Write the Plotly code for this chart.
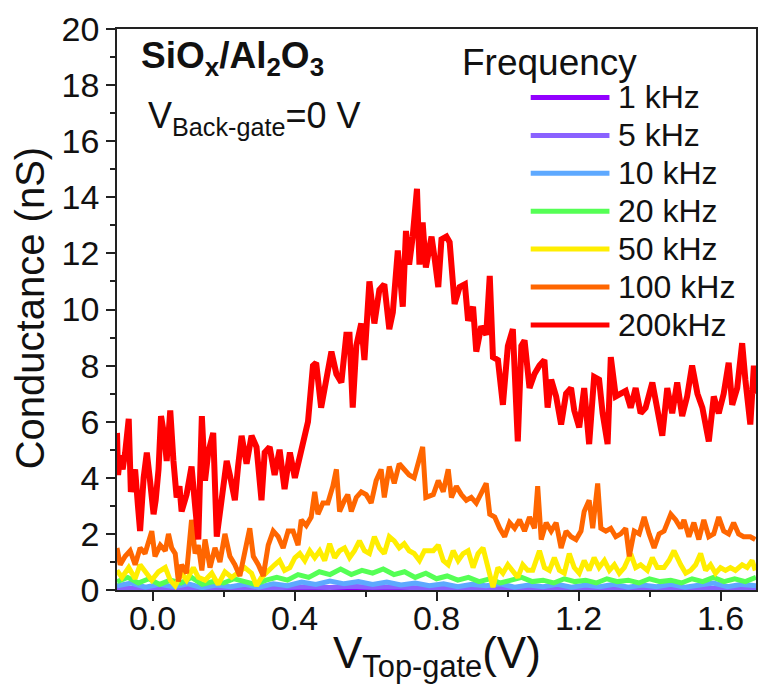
import plotly.graph_objects as go

# ---------------- data: conductance (nS) vs top-gate voltage (V) ----------------
labels = ["1 kHz", "5 kHz", "10 kHz", "20 kHz", "50 kHz", "100 kHz", "200kHz"]
colors = ["#9300ff", "#8a62ff", "#5ea9ff", "#55ff55", "#ffee00", "#ff6600", "#ff0000"]

v_1k = [-0.10, 0.00, 0.10, 0.20, 0.30, 0.40, 0.50, 0.60, 0.70, 0.80, 0.90, 1.00,
        1.10, 1.20, 1.30, 1.40, 1.50, 1.60, 1.70]
g_1k = [0.03, 0.02, 0.03, 0.02, 0.04, 0.03, 0.05, 0.04, 0.05, 0.03, 0.04, 0.02,
        0.03, 0.02, 0.03, 0.02, 0.03, 0.02, 0.03]

v_5k = [-0.10, -0.04, 0.02, 0.08, 0.14, 0.20, 0.26, 0.32, 0.38, 0.44, 0.50, 0.56,
        0.62, 0.68, 0.74, 0.80, 0.86, 0.92, 0.98, 1.04, 1.10, 1.16, 1.22, 1.28,
        1.34, 1.40, 1.46, 1.52, 1.58, 1.64, 1.70]
g_5k = [0.08, 0.05, 0.10, 0.06, 0.09, 0.05, 0.08, 0.06, 0.10, 0.12, 0.09, 0.13,
        0.10, 0.12, 0.08, 0.10, 0.06, 0.09, 0.05, 0.08, 0.06, 0.09, 0.05, 0.08,
        0.06, 0.09, 0.05, 0.08, 0.06, 0.09, 0.06]

v_10k = [-0.10, -0.06, -0.02, 0.02, 0.06, 0.10, 0.14, 0.18, 0.22, 0.26, 0.30, 0.34,
         0.38, 0.42, 0.46, 0.50, 0.54, 0.58, 0.62, 0.66, 0.70, 0.74, 0.78, 0.82,
         0.86, 0.90, 0.94, 0.98, 1.02, 1.06, 1.10, 1.14, 1.18, 1.22, 1.26, 1.30,
         1.34, 1.38, 1.42, 1.46, 1.50, 1.54, 1.58, 1.62, 1.66, 1.70]
g_10k = [0.15, 0.25, 0.10, 0.20, 0.12, 0.22, 0.08, 0.18, 0.12, 0.20, 0.10, 0.22,
         0.15, 0.28, 0.20, 0.32, 0.22, 0.30, 0.20, 0.28, 0.18, 0.25, 0.15, 0.22,
         0.12, 0.20, 0.15, 0.22, 0.10, 0.18, 0.12, 0.20, 0.10, 0.18, 0.12, 0.20,
         0.10, 0.18, 0.12, 0.20, 0.10, 0.18, 0.25, 0.12, 0.20, 0.15]

v_20k = [-0.10, -0.07, -0.04, -0.01, 0.02, 0.05, 0.08, 0.11, 0.14, 0.17, 0.20, 0.23,
         0.26, 0.29, 0.32, 0.35, 0.38, 0.41, 0.44, 0.47, 0.50, 0.53, 0.56, 0.59,
         0.62, 0.65, 0.68, 0.71, 0.74, 0.77, 0.80, 0.83, 0.86, 0.89, 0.92, 0.95,
         0.98, 1.01, 1.04, 1.07, 1.10, 1.13, 1.16, 1.19, 1.22, 1.25, 1.28, 1.31,
         1.34, 1.37, 1.40, 1.43, 1.46, 1.49, 1.52, 1.55, 1.58, 1.61, 1.64, 1.67, 1.70]
g_20k = [0.30, 0.45, 0.25, 0.40, 0.20, 0.35, 0.25, 0.45, 0.20, 0.30, 0.25, 0.40,
         0.30, 0.20, 0.35, 0.45, 0.35, 0.55, 0.45, 0.65, 0.55, 0.75, 0.55, 0.70,
         0.60, 0.75, 0.55, 0.65, 0.45, 0.60, 0.40, 0.50, 0.35, 0.45, 0.30, 0.40,
         0.25, 0.35, 0.45, 0.30, 0.35, 0.25, 0.40, 0.30, 0.35, 0.25, 0.40, 0.30,
         0.35, 0.25, 0.40, 0.30, 0.35, 0.25, 0.40, 0.30, 0.45, 0.30, 0.40, 0.30, 0.45]

v_50k = [-0.100, -0.086, -0.067, -0.049, -0.035, -0.016, -0.002, 0.017, 0.036, 0.050,
         0.064, 0.082, 0.096, 0.115, 0.129, 0.148, 0.167, 0.185, 0.204, 0.223, 0.241,
         0.260, 0.279, 0.293, 0.307, 0.326, 0.344, 0.358, 0.372, 0.387, 0.401, 0.415,
         0.429, 0.443, 0.457, 0.471, 0.485, 0.499, 0.513, 0.527, 0.541, 0.555, 0.569,
         0.583, 0.597, 0.611, 0.625, 0.639, 0.653, 0.667, 0.681, 0.695, 0.709, 0.723,
         0.737, 0.752, 0.766, 0.791, 0.805, 0.819, 0.833, 0.847, 0.861, 0.875, 0.889,
         0.903, 0.917, 0.931, 0.945, 0.959, 0.973, 0.987, 1.001, 1.015, 1.029, 1.043,
         1.057, 1.071, 1.090, 1.104, 1.118, 1.132, 1.146, 1.160, 1.174, 1.188, 1.202,
         1.216, 1.230, 1.244, 1.258, 1.273, 1.287, 1.301, 1.315, 1.329, 1.347, 1.361,
         1.375, 1.394, 1.408, 1.422, 1.441, 1.455, 1.469, 1.488, 1.502, 1.516, 1.530,
         1.544, 1.558, 1.572, 1.586, 1.600, 1.614, 1.628, 1.642, 1.661, 1.675, 1.689,
         1.698]
g_50k = [0.70, 0.45, 0.80, 0.40, 0.90, 0.60, 0.35, 0.65, 0.80, 0.35,
         0.15, 0.60, 0.35, 0.80, 0.45, 0.35, 0.60, 0.20, 0.65, 0.45, 0.60,
         0.80, 0.60, 0.15, 0.45, 0.70, 0.90, 1.05, 0.70, 0.80, 1.15, 1.30,
         1.05, 1.40, 1.15, 1.40, 1.05, 1.65, 1.15, 1.40, 1.50, 1.15, 1.40,
         1.75, 1.40, 1.30, 1.90, 1.50, 1.30, 1.90, 1.75, 1.50, 1.65, 1.40,
         1.30, 1.05, 1.40, 1.40, 1.60, 1.05, 0.90, 1.40, 1.05, 1.30, 1.40,
         0.80, 1.30, 1.50, 0.80, 0.10, 0.80, 0.60, 0.90, 0.70, 0.45, 0.90,
         0.70, 0.70, 1.40, 0.80, 0.70, 1.15, 0.70, 0.60, 1.30, 0.80, 0.60,
         1.05, 0.70, 1.15, 0.80, 1.05, 0.70, 0.90, 0.60, 0.80, 1.30, 0.80,
         0.90, 0.70, 1.15, 0.80, 0.80, 1.05, 1.40, 0.90, 0.60, 0.70, 0.90,
         1.30, 0.70, 0.90, 0.60, 0.80, 0.70, 0.80, 0.70, 0.90, 0.80, 1.05,
         0.70]

v_100k = [-0.100, -0.091, -0.077, -0.063, -0.049, -0.035, -0.021, -0.002, 0.007, 0.022,
          0.036, 0.045, 0.054, 0.064, 0.073, 0.082, 0.096, 0.110, 0.120, 0.129, 0.139,
          0.148, 0.162, 0.176, 0.190, 0.204, 0.218, 0.232, 0.246, 0.260, 0.274, 0.284,
          0.298, 0.312, 0.326, 0.340, 0.354, 0.368, 0.382, 0.396, 0.410, 0.419, 0.433,
          0.447, 0.457, 0.466, 0.480, 0.494, 0.508, 0.518, 0.527, 0.541, 0.550, 0.560,
          0.574, 0.588, 0.602, 0.616, 0.630, 0.644, 0.653, 0.667, 0.681, 0.695, 0.709,
          0.723, 0.737, 0.752, 0.761, 0.770, 0.791, 0.805, 0.819, 0.833, 0.842, 0.856,
          0.870, 0.884, 0.898, 0.912, 0.926, 0.940, 0.950, 0.964, 0.978, 0.992, 1.006,
          1.020, 1.034, 1.048, 1.062, 1.076, 1.085, 1.095, 1.109, 1.123, 1.137, 1.151,
          1.165, 1.179, 1.193, 1.207, 1.216, 1.230, 1.240, 1.254, 1.263, 1.277, 1.291,
          1.305, 1.319, 1.333, 1.343, 1.357, 1.371, 1.385, 1.399, 1.413, 1.427, 1.441,
          1.460, 1.474, 1.488, 1.497, 1.511, 1.525, 1.539, 1.553, 1.567, 1.581, 1.595,
          1.609, 1.623, 1.637, 1.651, 1.665, 1.684, 1.698]
g_100k = [1.5, 0.9, 1.2, 1.4, 0.9, 1.5, 1.3, 2.1, 1.2, 1.6,
          1.4, 2.0, 1.5, 1.3, 0.3, 0.9, 0.6, 2.5, 1.3, 1.6, 0.7,
          1.8, 0.8, 1.5, 1.0, 2.0, 1.2, 0.9, 0.5, 1.4, 2.2, 1.2,
          0.9, 0.5, 1.6, 2.1, 1.9, 1.5, 2.1, 2.1, 1.6, 2.5, 2.3,
          2.6, 3.5, 2.7, 3.1, 3.1, 3.7, 4.3, 2.8, 3.2, 3.4, 2.8,
          3.3, 3.5, 3.4, 3.1, 3.9, 4.3, 3.3, 4.4, 3.8, 4.5, 4.3,
          4.1, 4.0, 4.7, 5.1, 3.3, 3.4, 3.9, 3.5, 4.3, 3.3, 3.7,
          3.4, 3.2, 3.3, 3.1, 3.5, 3.8, 2.7, 2.6, 2.2, 1.9, 2.4,
          2.2, 2.5, 2.1, 2.6, 2.2, 3.7, 1.8, 2.4, 2.1, 2.4, 1.5,
          2.1, 1.9, 1.8, 2.1, 2.8, 3.2, 2.2, 3.8, 2.2, 2.1, 2.2,
          1.9, 2.0, 2.2, 1.2, 2.1, 2.0, 2.6, 2.0, 1.5, 2.0, 2.1,
          2.7, 2.5, 2.2, 2.5, 1.9, 2.4, 1.8, 2.5, 1.9, 2.0, 2.6,
          2.1, 2.0, 2.4, 2.0, 1.9, 1.9, 1.8]

v_200k = [-0.100, -0.097, -0.091, -0.084, -0.077, -0.067, -0.061, -0.049, -0.041, -0.035,
          -0.025, -0.016, -0.007, 0.003, 0.009, 0.017, 0.024, 0.033, 0.040, 0.050,
          0.059, 0.068, 0.076, 0.082, 0.096, 0.110, 0.120, 0.129, 0.139, 0.148,
          0.157, 0.171, 0.181, 0.195, 0.209, 0.218, 0.232, 0.241, 0.251, 0.265,
          0.279, 0.293, 0.307, 0.316, 0.330, 0.344, 0.358, 0.372, 0.387, 0.401,
          0.410, 0.424, 0.438, 0.452, 0.461, 0.475, 0.489, 0.504, 0.518, 0.532,
          0.546, 0.555, 0.564, 0.574, 0.588, 0.597, 0.611, 0.625, 0.639, 0.653,
          0.667, 0.677, 0.691, 0.705, 0.714, 0.723, 0.733, 0.745, 0.752, 0.761,
          0.770, 0.786, 0.795, 0.805, 0.814, 0.828, 0.837, 0.851, 0.865, 0.880,
          0.889, 0.903, 0.912, 0.926, 0.940, 0.950, 0.959, 0.973, 0.987, 1.001,
          1.015, 1.029, 1.039, 1.048, 1.062, 1.076, 1.090, 1.104, 1.113, 1.123,
          1.137, 1.151, 1.165, 1.179, 1.188, 1.202, 1.216, 1.230, 1.244, 1.258,
          1.268, 1.282, 1.291, 1.305, 1.319, 1.333, 1.347, 1.361, 1.375, 1.389,
          1.408, 1.422, 1.436, 1.450, 1.464, 1.478, 1.492, 1.506, 1.520, 1.535,
          1.549, 1.567, 1.581, 1.595, 1.609, 1.623, 1.633, 1.647, 1.661, 1.670,
          1.684, 1.694, 1.700]
g_200k = [5.6, 4.1, 4.8, 4.3, 4.9, 6.1, 3.5, 4.3, 3.0, 2.1,
          4.0, 4.9, 3.9, 2.7, 3.2, 4.3, 6.2, 5.5, 4.6, 6.4,
          4.6, 3.3, 3.7, 2.8, 3.4, 4.4, 3.0, 1.8, 6.2, 3.9,
          4.9, 5.6, 1.9, 3.2, 4.6, 4.1, 3.2, 4.4, 5.5, 4.5,
          5.5, 5.1, 3.2, 4.9, 5.1, 4.1, 5.0, 3.6, 4.9, 4.0,
          4.5, 5.3, 6.0, 8.0, 8.1, 6.5, 7.5, 8.5, 7.7, 7.4,
          9.1, 9.1, 6.5, 8.7, 9.5, 8.2, 11.0, 9.5, 10.7, 10.9,
          9.3, 9.9, 12.1, 10.1, 12.8, 11.6, 12.6, 14.3, 11.6, 13.1,
          11.5, 12.6, 11.8, 10.8, 12.5, 12.6, 12.4, 10.2, 10.8, 10.9,
          9.6, 10.1, 8.5, 9.4, 9.1, 11.2, 8.3, 8.2, 6.6, 8.7,
          9.3, 5.3, 8.7, 8.9, 7.2, 7.7, 8.0, 8.2, 6.5, 7.5,
          6.9, 5.9, 7.0, 7.2, 6.4, 5.8, 7.2, 5.2, 7.6, 7.5,
          6.3, 5.2, 8.3, 6.9, 7.0, 7.1, 6.5, 7.2, 6.3, 6.5,
          7.4, 6.5, 5.5, 7.2, 6.3, 7.4, 6.2, 6.9, 8.0, 7.0,
          6.5, 5.3, 6.9, 6.3, 7.0, 8.1, 6.6, 7.2, 8.8, 7.5,
          5.9, 8.0, 7.0]

series_v = [v_1k, v_5k, v_10k, v_20k, v_50k, v_100k, v_200k]
series_g = [g_1k, g_5k, g_10k, g_20k, g_50k, g_100k, g_200k]

x_range = [-0.1, 1.7]
y_range = [0, 20]

# ---------------- figure geometry (pixels) ----------------
FIG_W, FIG_H = 759, 688
L, R, T, B = 117, 758, 29, 590
PW, PH = R - L, B - T


def px(x):
    return (x - L) / PW


def py(y):
    return (B - y) / PH


FONT = "Liberation Sans, Arial, sans-serif"

fig = go.Figure()
for v, g, name, col in zip(series_v, series_g, labels, colors):
    fig.add_trace(go.Scatter(
        x=v, y=g, mode="lines", name=name,
        line=dict(color=col, width=6 if name == "200kHz" else 5),
        showlegend=False,
    ))

# hand-built legend: long line samples with labels, one row per frequency
legend_row_y0, legend_row_dy = 97.5, 37.9
shapes = []
annotations = []
for i, (name, col) in enumerate(zip(labels, colors)):
    yrow = legend_row_y0 + i * legend_row_dy
    shapes.append(dict(type="line", xref="paper", yref="paper",
                       x0=px(532), x1=px(611), y0=py(yrow), y1=py(yrow),
                       line=dict(color=col, width=5)))
    annotations.append(dict(text=name, xref="paper", yref="paper",
                            x=px(618), y=py(yrow), xanchor="left", yanchor="middle",
                            showarrow=False, font=dict(family=FONT, size=32, color="#111")))

annotations += [
    dict(text="Frequency", xref="paper", yref="paper", x=px(461), y=py(63),
         xanchor="left", yanchor="middle", showarrow=False,
         font=dict(family=FONT, size=37, color="#111")),
    dict(text="<b>SiO<sub>x</sub>/Al<sub>2</sub>O<sub>3</sub></b>", xref="paper", yref="paper",
         x=px(139), y=py(58), xanchor="left", yanchor="middle", showarrow=False,
         font=dict(family=FONT, size=37, color="#111")),
    dict(text="V<sub>Back-gate</sub>=0 V", xref="paper", yref="paper",
         x=px(146), y=py(118), xanchor="left", yanchor="middle", showarrow=False,
         font=dict(family=FONT, size=36, color="#111")),
    dict(text="V<sub>Top-gate</sub>(V)", xref="paper", yref="paper",
         x=px(438), y=py(656), xanchor="center", yanchor="middle", showarrow=False,
         font=dict(family=FONT, size=44, color="#111")),
    dict(text="Conductance (nS)", xref="paper", yref="paper",
         x=px(30), y=py(308), xanchor="center", yanchor="middle", showarrow=False,
         textangle=-90, font=dict(family=FONT, size=40, color="#111")),
]

axis_common = dict(
    showgrid=False, zeroline=False, showline=True, linecolor="#222", linewidth=1.5,
    mirror=True, ticks="outside", ticklen=9, tickwidth=1.5, tickcolor="#222",
    tickfont=dict(family=FONT, size=34, color="#111"),
)

fig.update_layout(
    width=FIG_W, height=FIG_H,
    margin=dict(l=L, r=FIG_W - R, t=T, b=FIG_H - B),
    paper_bgcolor="white", plot_bgcolor="white",
    xaxis=dict(range=x_range, tick0=0, dtick=0.4, tickformat=".1f",
               ticklabelstandoff=-12,
               minor=dict(ticks="outside", ticklen=5, tickwidth=1.5, tickcolor="#222",
                          tick0=0, dtick=0.2),
               **axis_common),
    yaxis=dict(range=y_range, tick0=0, dtick=2,
               minor=dict(ticks="outside", ticklen=5, tickwidth=1.5, tickcolor="#222",
                          tick0=0, dtick=1),
               **axis_common),
    shapes=shapes,
    annotations=annotations,
)

fig.write_html("out.html")
